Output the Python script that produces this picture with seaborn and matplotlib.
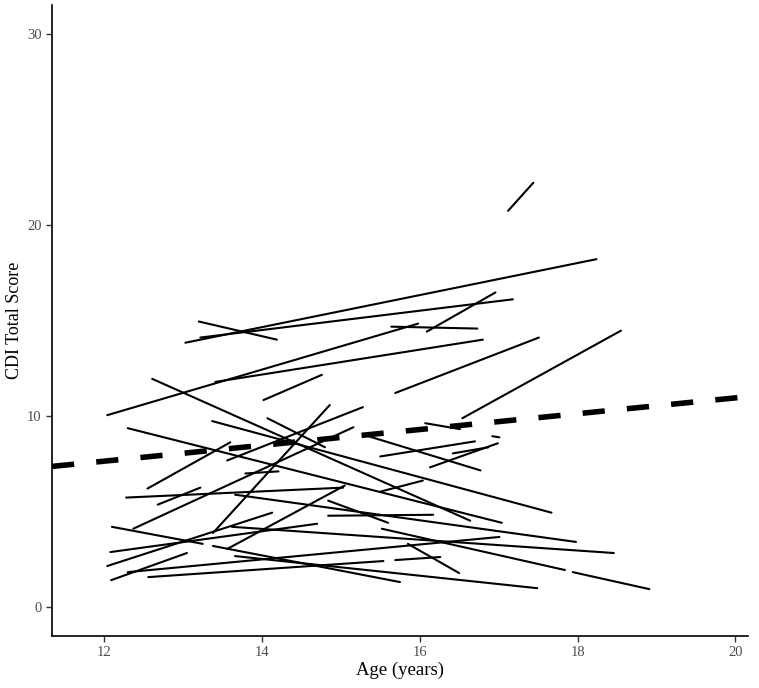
import numpy as np
import pandas as pd
import matplotlib
matplotlib.use('Agg')
import matplotlib.pyplot as plt
import seaborn as sns

# one segment per participant: (age, CDI) at first and second visit
age_t1 = [17.12, 13.03, 13.22, 13.20, 16.09, 15.64, 12.04, 13.41, 15.69, 16.54,
          14.02, 12.61, 14.07, 13.37, 12.30, 12.55, 13.56, 12.37, 13.79, 12.28,
          12.68, 13.38, 12.10, 12.04, 12.08, 12.09, 13.56, 13.38, 16.07, 15.31,
          15.50, 16.13, 16.42, 16.92, 13.66, 13.62, 15.52, 17.94, 12.30, 12.56,
          15.69, 13.66, 15.85, 14.84, 14.84, 15.50]
age_t2 = [17.44, 18.24, 17.18, 14.19, 16.96, 16.73, 15.98, 16.80, 17.51, 18.55,
          14.76, 16.64, 14.80, 17.67, 17.04, 13.60, 15.28, 15.16, 14.21, 15.03,
          13.22, 14.86, 13.25, 14.13, 14.70, 13.05, 15.05, 15.75, 16.51, 16.77,
          16.70, 16.99, 16.87, 17.01, 17.98, 18.46, 17.84, 18.91, 17.01, 15.54,
          16.26, 17.49, 16.50, 16.17, 15.60, 16.04]
cdi_t1 = [20.74, 13.84, 14.11, 14.95, 14.42, 14.68, 10.05, 11.79, 11.21, 9.89,
          10.84, 11.95, 9.89, 9.74, 9.37, 6.21, 7.68, 4.11, 7.00, 5.74,
          5.37, 3.89, 4.21, 2.16, 2.89, 1.42, 3.05, 3.21, 9.63, 9.00,
          7.89, 7.32, 8.05, 8.95, 5.89, 4.21, 4.11, 1.84, 1.84, 1.58,
          2.47, 2.68, 3.32, 4.79, 5.58, 6.05]
cdi_t2 = [22.21, 18.21, 16.11, 14.00, 16.47, 14.58, 14.84, 14.00, 14.11, 14.47,
          12.16, 4.53, 8.37, 4.95, 4.42, 8.63, 10.47, 9.42, 7.11, 6.26,
          6.26, 10.58, 3.32, 4.95, 4.37, 2.84, 6.37, 1.32, 9.32, 7.16,
          8.68, 8.58, 8.37, 8.89, 3.42, 2.84, 1.95, 0.95, 3.68, 2.42,
          2.63, 1.00, 1.79, 4.84, 4.42, 6.63]

# fixed effect of age (dashed line)
fit_intercept = 2.675
fit_slope = 0.414

n = len(age_t1)
df = pd.DataFrame({
    'id': np.tile(np.arange(n), 2),
    'age': age_t1 + age_t2,
    'cdi': cdi_t1 + cdi_t2,
})

sns.set_theme(style='ticks')
plt.rcParams['font.family'] = ['Liberation Serif', 'DejaVu Serif']

fig = plt.figure(figsize=(7.59, 6.88), dpi=100)
ax = fig.add_axes([0.0685, 0.0756, 0.917, 0.917])

sns.lineplot(data=df, x='age', y='cdi', units='id', estimator=None,
             color='black', lw=1.5, ax=ax, legend=False)
ax.axline((0, fit_intercept), slope=fit_slope, color='black', lw=4,
          dashes=(4, 4))

ax.set_xlim(11.34, 20.16)
ax.set_ylim(-1.5, 31.5)
ax.set_xticks([12, 14, 16, 18, 20])
ax.set_yticks([0, 10, 20, 30])
ax.set_xlabel('Age (years)', fontsize=13.5, color='black', labelpad=2)
ax.set_ylabel('CDI Total Score', fontsize=13, color='black', labelpad=3)
ax.tick_params(axis='both', labelsize=10.5, labelcolor='#4d4d4d',
               color='#333333', length=4, width=1)
sns.despine(ax=ax)
for s in ['left', 'bottom']:
    ax.spines[s].set_color('black')
    ax.spines[s].set_linewidth(1.2)

fig.savefig('out.png', dpi=100)
